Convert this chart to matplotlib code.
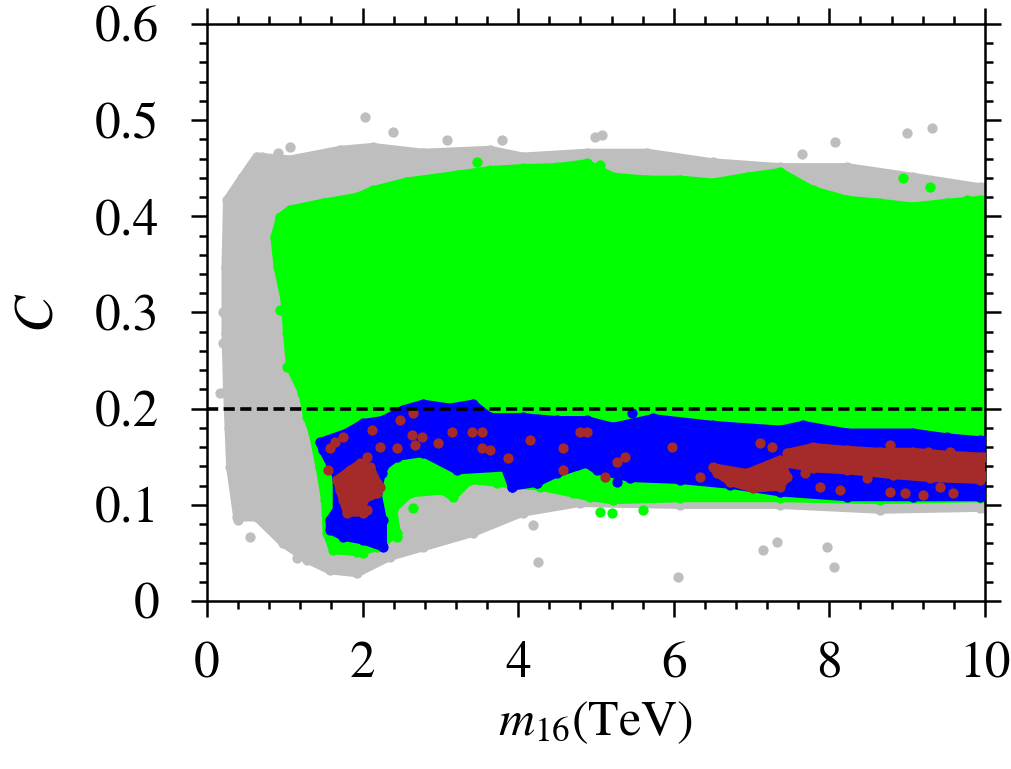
import matplotlib
matplotlib.use("Agg")
import matplotlib.pyplot as plt
from matplotlib.ticker import MultipleLocator

plt.rcParams['font.family'] = ['STIXGeneral', 'DejaVu Serif']
plt.rcParams['mathtext.fontset'] = 'stix'

# ---- region outlines (m16 in TeV, C) ----
gray_x = [0.26, 0.45, 0.64, 1.07, 1.71, 2.13, 2.78, 3.64, 4.06, 4.88, 5.66, 6.50, 7.37, 8.23, 9.07, 9.94, 10.0,
          10.0, 9.94, 8.65, 7.37, 6.08, 4.79, 4.06, 3.42, 2.78, 2.35, 1.93, 1.58, 1.29, 0.98, 0.64, 0.39,
          0.30, 0.28, 0.26, 0.24, 0.24]
gray_y = [0.417, 0.440, 0.462, 0.459, 0.469, 0.472, 0.466, 0.469, 0.462, 0.466, 0.466, 0.456, 0.451, 0.451, 0.441, 0.430, 0.430,
          0.097, 0.097, 0.095, 0.100, 0.100, 0.102, 0.092, 0.071, 0.056, 0.046, 0.029, 0.032, 0.043, 0.060, 0.087, 0.087,
          0.139, 0.180, 0.220, 0.279, 0.347]
gray_px = [4.256, 2.03, 2.39, 3.08, 3.79, 9.32, 9.0, 8.07, 4.99, 5.08, 7.65, 6.05, 7.15, 7.33, 7.97, 8.06,
           4.19, 0.55, 0.40, 1.16, 0.17, 0.21, 0.21, 0.28, 1.07, 0.91, 0.71]
gray_py = [0.041, 0.503, 0.488, 0.479, 0.479, 0.492, 0.487, 0.477, 0.483, 0.485, 0.465, 0.025, 0.053, 0.061, 0.056, 0.035,
           0.079, 0.067, 0.084, 0.045, 0.216, 0.300, 0.268, 0.417, 0.472, 0.466, 0.462]

green_x = [0.87, 0.94, 1.07, 1.49, 1.93, 2.13, 2.57, 3.21, 3.64, 4.06, 4.50, 4.88, 5.22, 5.66, 6.08, 6.50, 6.94,
           7.37, 7.79, 8.23, 8.65, 9.07, 9.51, 9.94, 10.0,
           10.0, 9.94, 8.65, 7.37, 6.08, 5.22, 4.92, 4.70, 4.28, 3.73, 3.38, 3.16, 3.03, 2.61, 2.39, 2.44, 2.19,
           1.93, 1.62, 1.54, 1.52, 1.45, 1.36, 1.29, 1.23, 1.07, 1.03, 1.00, 0.91]
green_y = [0.378, 0.399, 0.407, 0.414, 0.420, 0.427, 0.436, 0.443, 0.448, 0.450, 0.451, 0.455, 0.441, 0.438, 0.438, 0.435, 0.441,
           0.446, 0.427, 0.417, 0.414, 0.410, 0.414, 0.417, 0.417,
           0.107, 0.107, 0.105, 0.107, 0.107, 0.105, 0.108, 0.112, 0.119, 0.123, 0.126, 0.108, 0.115, 0.112, 0.095, 0.071, 0.056,
           0.051, 0.053, 0.071, 0.105, 0.139, 0.175, 0.191, 0.216, 0.243, 0.279, 0.313, 0.347]
green_px = [3.47, 5.05, 8.95, 9.29, 9.77, 5.05, 5.21, 5.60, 2.65, 2.01, 2.44, 0.94, 1.07, 1.03, 1.22]
green_py = [0.457, 0.453, 0.440, 0.430, 0.417, 0.093, 0.092, 0.095, 0.097, 0.050, 0.067, 0.303, 0.264, 0.243, 0.216]

blue_x = [1.45, 1.80, 2.01, 2.26, 2.52, 2.78, 3.12, 3.42, 3.64, 4.06, 4.50, 4.88, 5.22, 5.73, 6.50, 7.37, 7.66,
          8.23, 9.07, 9.51, 9.94, 10.0,
          10.0, 9.94, 9.07, 8.23, 7.37, 6.72, 6.08, 5.44, 5.01, 4.88, 4.50, 4.24, 3.92, 3.83, 3.21, 2.78, 2.44,
          2.26, 2.19, 2.26, 2.26, 2.01, 1.75, 1.58, 1.58, 1.67, 1.67, 1.49]
blue_y = [0.165, 0.175, 0.185, 0.188, 0.199, 0.205, 0.201, 0.205, 0.191, 0.191, 0.188, 0.188, 0.181, 0.190, 0.183, 0.178, 0.183,
          0.175, 0.175, 0.170, 0.167, 0.167,
          0.110, 0.108, 0.108, 0.108, 0.113, 0.121, 0.126, 0.128, 0.136, 0.143, 0.133, 0.123, 0.119, 0.139, 0.136, 0.154, 0.150,
          0.139, 0.112, 0.084, 0.056, 0.063, 0.067, 0.074, 0.084, 0.095, 0.129, 0.157]
blue_px = [2.25, 2.25, 3.92, 4.24, 4.76, 5.27, 5.46]
blue_py = [0.058, 0.133, 0.119, 0.123, 0.141, 0.124, 0.195]

brown1_x = [1.67, 1.84, 1.97, 2.10, 2.19, 2.19, 2.01, 2.01, 1.80, 1.75, 1.71]
brown1_y = [0.126, 0.136, 0.143, 0.139, 0.123, 0.112, 0.105, 0.092, 0.092, 0.105, 0.115]
brown2_x = [7.46, 7.79, 8.23, 8.65, 9.07, 9.51, 9.94, 10.0, 10.0, 9.94, 9.29, 8.82, 8.23, 7.79, 7.46]
brown2_y = [0.154, 0.160, 0.157, 0.155, 0.155, 0.152, 0.150, 0.150, 0.130, 0.126, 0.128, 0.131, 0.136, 0.138, 0.143]
brown3_x = [6.50, 6.94, 7.37, 7.46, 7.37, 7.02, 6.72, 6.56]
brown3_y = [0.139, 0.133, 0.147, 0.129, 0.119, 0.117, 0.124, 0.133]
brown_px = [2.65, 2.48, 2.12, 1.75, 1.65, 1.58, 2.22, 2.44, 2.06, 2.64, 2.76, 2.67, 2.97, 3.15, 3.41, 3.53, 3.53,
            3.64, 3.87, 4.15, 4.58, 4.58, 4.79, 1.56, 2.06, 2.22, 4.88, 5.98, 5.27, 5.37, 5.11, 6.34, 7.11, 7.26,
            7.69, 8.14, 7.88, 8.48, 8.78, 8.78, 8.97, 9.20, 9.42, 9.59, 9.27, 9.55, 9.90, 7.02, 6.63]
brown_py = [0.195, 0.188, 0.178, 0.171, 0.165, 0.159, 0.160, 0.159, 0.150, 0.173, 0.171, 0.162, 0.164, 0.176, 0.176, 0.176, 0.159,
            0.157, 0.149, 0.167, 0.159, 0.136, 0.176, 0.136, 0.095, 0.119, 0.176, 0.160, 0.145, 0.150, 0.129, 0.129, 0.164, 0.160,
            0.133, 0.115, 0.119, 0.128, 0.162, 0.113, 0.112, 0.110, 0.119, 0.112, 0.155, 0.155, 0.128, 0.133, 0.136]

cut_C = 0.2
x_ticks = [0, 2, 4, 6, 8, 10]
y_ticks = [0, 0.1, 0.2, 0.3, 0.4, 0.5, 0.6]
y_ticklabels = ['0', '0.1', '0.2', '0.3', '0.4', '0.5', '0.6']

GRAY, GREEN, BLUE, BROWN = '#bebebe', '#00ff00', '#0000ff', '#a52a2a'
S = 55

fig = plt.figure(figsize=(10.12, 7.69), dpi=100)
ax = fig.add_axes([0.2045, 0.2185, 0.7688, 0.7503])

def region(xs, ys, col, z):
    ax.fill(xs, ys, color=col, lw=6, ec=col, joinstyle='round', zorder=z)
    ax.scatter(xs, ys, s=S, c=col, lw=0, zorder=z)

region(gray_x, gray_y, GRAY, 1)
ax.scatter(gray_px, gray_py, s=S, c=GRAY, lw=0, zorder=1)
region(green_x, green_y, GREEN, 2)
ax.scatter(green_px, green_py, s=S, c=GREEN, lw=0, zorder=2)
region(blue_x, blue_y, BLUE, 3)
ax.scatter(blue_px, blue_py, s=S, c=BLUE, lw=0, zorder=3)
region(brown1_x, brown1_y, BROWN, 4)
region(brown2_x, brown2_y, BROWN, 4)
region(brown3_x, brown3_y, BROWN, 4)
ax.scatter(brown_px, brown_py, s=S, c=BROWN, lw=0, zorder=4)

ax.axhline(cut_C, color='black', lw=2.6, dashes=(3.1, 1.5), zorder=5)

ax.set_xlim(0, 10)
ax.set_ylim(0, 0.6)
ax.set_xticks(x_ticks)
ax.set_xticklabels([str(t) for t in x_ticks])
ax.set_yticks(y_ticks)
ax.set_yticklabels(y_ticklabels)
ax.xaxis.set_minor_locator(MultipleLocator(0.4))
ax.yaxis.set_minor_locator(MultipleLocator(0.02))
ax.tick_params(which='both', direction='out', top=True, right=True, width=1.8,
               labelsize=37)
ax.tick_params(which='major', length=11.5)
ax.tick_params(which='minor', length=6)
ax.tick_params(axis='y', pad=23)
ax.tick_params(axis='x', pad=18)
for sp in ax.spines.values():
    sp.set_linewidth(1.8)
ax.set_xlabel(r'$m_{16}\mathrm{(TeV)}$', fontsize=36, labelpad=8)
ax.set_ylabel(r'$C$', fontsize=40, labelpad=22)

fig.savefig('out.png', dpi=100)
